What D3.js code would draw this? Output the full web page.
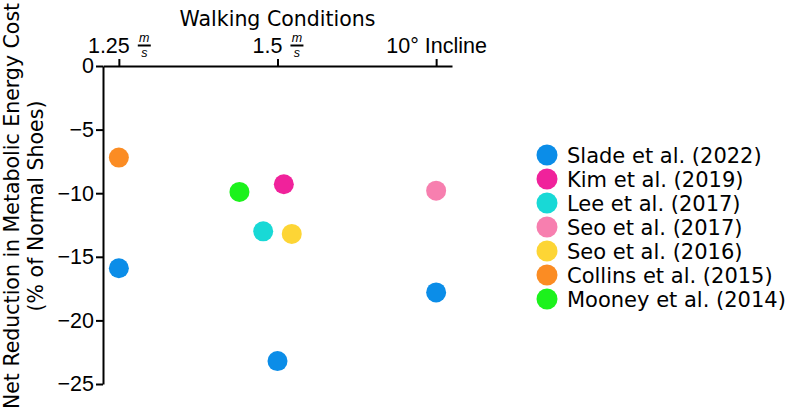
<!DOCTYPE html>
<html>
<head>
<meta charset="utf-8">
<script src="https://cdn.jsdelivr.net/npm/d3@7"></script>
<style>
  body { margin: 0; background: #fff; }
  svg { font-family: "DejaVu Sans", sans-serif; }
  .axis path, .axis line { stroke: #000; stroke-width: 2; }
  .axis text { font-size: 21.5px; fill: #000; }
</style>
</head>
<body>
<div id="chart"></div>
<script>
// studies shown in the legend, same order as the picture
var studies = ["Slade et al. (2022)", "Kim et al. (2019)", "Lee et al. (2017)",
               "Seo et al. (2017)", "Seo et al. (2016)", "Collins et al. (2015)",
               "Mooney et al. (2014)"];
var studyColors = ["#0b8de8", "#f0229b", "#18d9d6", "#f77faf", "#fdd535", "#fb8c23", "#1cf21c"];

// walking conditions (top axis)
var condLabels = ["1.25", "1.5", "10\u00b0 Incline"];
var condUnits = [true, true, false];   // true -> draw the m/s fraction

// points: which study, position along condition axis, net reduction (%)
var pointStudy = [5, 0, 6, 1, 2, 4, 0, 3, 0];
var pointCond  = [0, 0, 0.76, 1.04, 0.91, 1.09, 1.0, 2, 2];
var pointValue = [-7.2, -15.9, -9.9, -9.3, -13.0, -13.2, -23.2, -9.8, -17.8];

var yTicks = [0, -5, -10, -15, -20, -25];

var width = 785, height = 411;

var svg = d3.select("#chart").append("svg")
    .attr("width", width)
    .attr("height", height);

var x = d3.scaleLinear().domain([-0.1, 2.1]).range([103, 452]);
var y = d3.scaleLinear().domain([0, -25]).range([66, 384]);

// top axis
var xAxis = d3.axisTop(x)
    .tickValues([0, 1, 2])
    .tickSize(7)
    .tickSizeOuter(0)
    .tickFormat("");

var gx = svg.append("g")
    .attr("class", "x axis")
    .attr("transform", "translate(0," + y(0) + ")")
    .call(xAxis);
gx.selectAll(".tick text").remove();

// custom labels with a little m/s fraction
gx.selectAll(".tick").each(function (d, i) {
    var t = d3.select(this);
    var lab = t.append("g");
    var main = lab.append("text")
        .attr("x", 0)
        .attr("y", 0)
        .attr("text-anchor", "start")
        .text(condLabels[i]);
    var w = main.node().getComputedTextLength();
    var total = w;
    if (condUnits[i]) {
        var fx = w + 8;
        lab.append("text")
            .attr("x", fx + 6.5).attr("y", -11)
            .attr("text-anchor", "middle")
            .style("font-size", "12.5px")
            .style("font-style", "italic")
            .text("m");
        lab.append("text")
            .attr("x", fx + 6.5).attr("y", 4)
            .attr("text-anchor", "middle")
            .style("font-size", "12.5px")
            .style("font-style", "italic")
            .text("s");
        lab.append("line").attr("x1", fx).attr("x2", fx + 13)
            .attr("y1", -7.5).attr("y2", -7.5)
            .attr("stroke", "#000").attr("stroke-width", 1);
        total = fx + 13;
    }
    lab.attr("transform", "translate(" + (-total / 2) + ",-13)");
});

svg.append("text")
    .attr("x", (x.range()[0] + x.range()[1]) / 2)
    .attr("y", 25.5)
    .attr("text-anchor", "middle")
    .style("font-size", "20.5px")
    .text("Walking Conditions");

// left axis
var yAxis = d3.axisLeft(y)
    .tickValues(yTicks)
    .tickSize(7)
    .tickPadding(2)
    .tickSizeOuter(0);

svg.append("g")
    .attr("class", "y axis")
    .attr("transform", "translate(" + x.range()[0] + ",0)")
    .call(yAxis);

var yTitle = svg.append("text")
    .attr("transform", "translate(19,206) rotate(-90)")
    .attr("text-anchor", "middle")
    .style("font-size", "20.5px");
yTitle.append("tspan").attr("x", 0).attr("y", 0).text("Net Reduction in Metabolic Energy Cost");
yTitle.append("tspan").attr("x", 0).attr("y", 24).text("(% of Normal Shoes)");

// points
svg.append("g").selectAll("circle")
    .data(pointValue)
    .join("circle")
    .attr("cx", function (d, i) { return x(pointCond[i]); })
    .attr("cy", function (d) { return y(d); })
    .attr("r", 10)
    .attr("fill", function (d, i) { return studyColors[pointStudy[i]]; });

// legend
var legend = svg.append("g").selectAll("g")
    .data(studies)
    .join("g")
    .attr("transform", function (d, i) { return "translate(547," + (155 + i * 24) + ")"; });

legend.append("circle")
    .attr("r", 10.5)
    .attr("fill", function (d, i) { return studyColors[i]; });

legend.append("text")
    .attr("x", 20)
    .attr("dy", "0.36em")
    .style("font-size", "21px")
    .text(function (d) { return d; });
</script>
</body>
</html>
